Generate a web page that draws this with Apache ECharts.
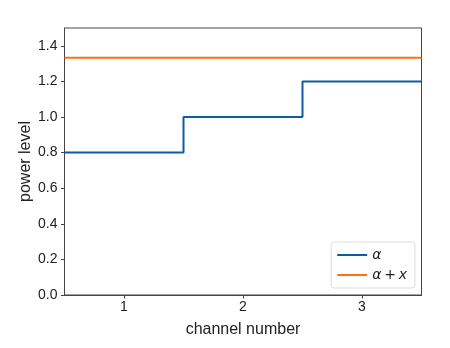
<!DOCTYPE html>
<html><head><meta charset="utf-8">
<script src="https://cdn.jsdelivr.net/npm/echarts@6/dist/echarts.min.js"></script>
<style>html,body{margin:0;padding:0;background:#fff}#c{width:450px;height:348px}</style>
</head><body><div id="c"></div>
<script>
const channels = [1, 2, 3];
const alphaVals = [0.8, 1.0, 1.2];
const alphaPlusX = 1.333;
const xTicks = [1, 2, 3];
const yTicks = [0, 0.2, 0.4, 0.6, 0.8, 1.0, 1.2, 1.4];
const seriesNames = ['α', 'α\u2009+\u2009x'];

const alphaData = channels.map((c, i) => [c - 0.5, alphaVals[i]]);
alphaData.push([channels[channels.length - 1] + 0.5, alphaVals[alphaVals.length - 1]]);
const xMin = channels[0] - 0.5, xMax = channels[channels.length - 1] + 0.5;
const flatData = [[xMin, alphaPlusX], [xMax, alphaPlusX]];

const font = 'Liberation Sans, Arial, sans-serif';
const chart = echarts.init(document.getElementById('c'));
chart.setOption({
  animation: false,
  grid: { left: 64.5, right: 28.5, top: 28, bottom: 53, show: true, borderColor: '#444', borderWidth: 1, containLabel: false },
  xAxis: {
    type: 'value', min: xMin, max: xMax,
    name: 'channel number', nameLocation: 'middle', nameGap: 27, nameMoveOverlap: false,
    nameTextStyle: { fontFamily: font, fontSize: 16, color: '#222' },
    axisLine: { show: true, lineStyle: { color: '#444' } },
    axisTick: { show: true, length: 3.5, customValues: xTicks, lineStyle: { color: '#444' } },
    axisLabel: { customValues: xTicks, margin: 5, fontFamily: font, fontSize: 14, color: '#222' },
    splitLine: { show: false }
  },
  yAxis: {
    type: 'value', min: 0, max: 1.5,
    name: 'power level', nameLocation: 'middle', nameGap: 31, nameMoveOverlap: false,
    nameTextStyle: { fontFamily: font, fontSize: 16, color: '#222' },
    axisLine: { show: true, lineStyle: { color: '#444' } },
    axisTick: { show: true, length: 3.5, customValues: yTicks, lineStyle: { color: '#444' } },
    axisLabel: { customValues: yTicks, margin: 7, fontFamily: font, fontSize: 14, color: '#222', formatter: v => v.toFixed(1) },
    splitLine: { show: false }
  },
  legend: {
    orient: 'vertical', right: 35, bottom: 60,
    data: seriesNames, icon: 'rect', itemWidth: 30, itemHeight: 2, itemGap: 6,
    padding: [6, 8, 6, 6],
    borderColor: '#ddd', borderWidth: 1, borderRadius: 3, backgroundColor: 'rgba(255,255,255,0.8)',
    textStyle: { fontFamily: 'DejaVu Sans', fontStyle: 'italic', fontSize: 14, color: '#222' }
  },
  series: [
    { name: seriesNames[0], type: 'line', step: 'end', data: alphaData, showSymbol: false, lineStyle: { color: '#0C5DA5', width: 2 }, itemStyle: { color: '#0C5DA5' } },
    { name: seriesNames[1], type: 'line', data: flatData, showSymbol: false, lineStyle: { color: '#FF7010', width: 2 }, itemStyle: { color: '#FF7010' } }
  ]
});
</script></body></html>
